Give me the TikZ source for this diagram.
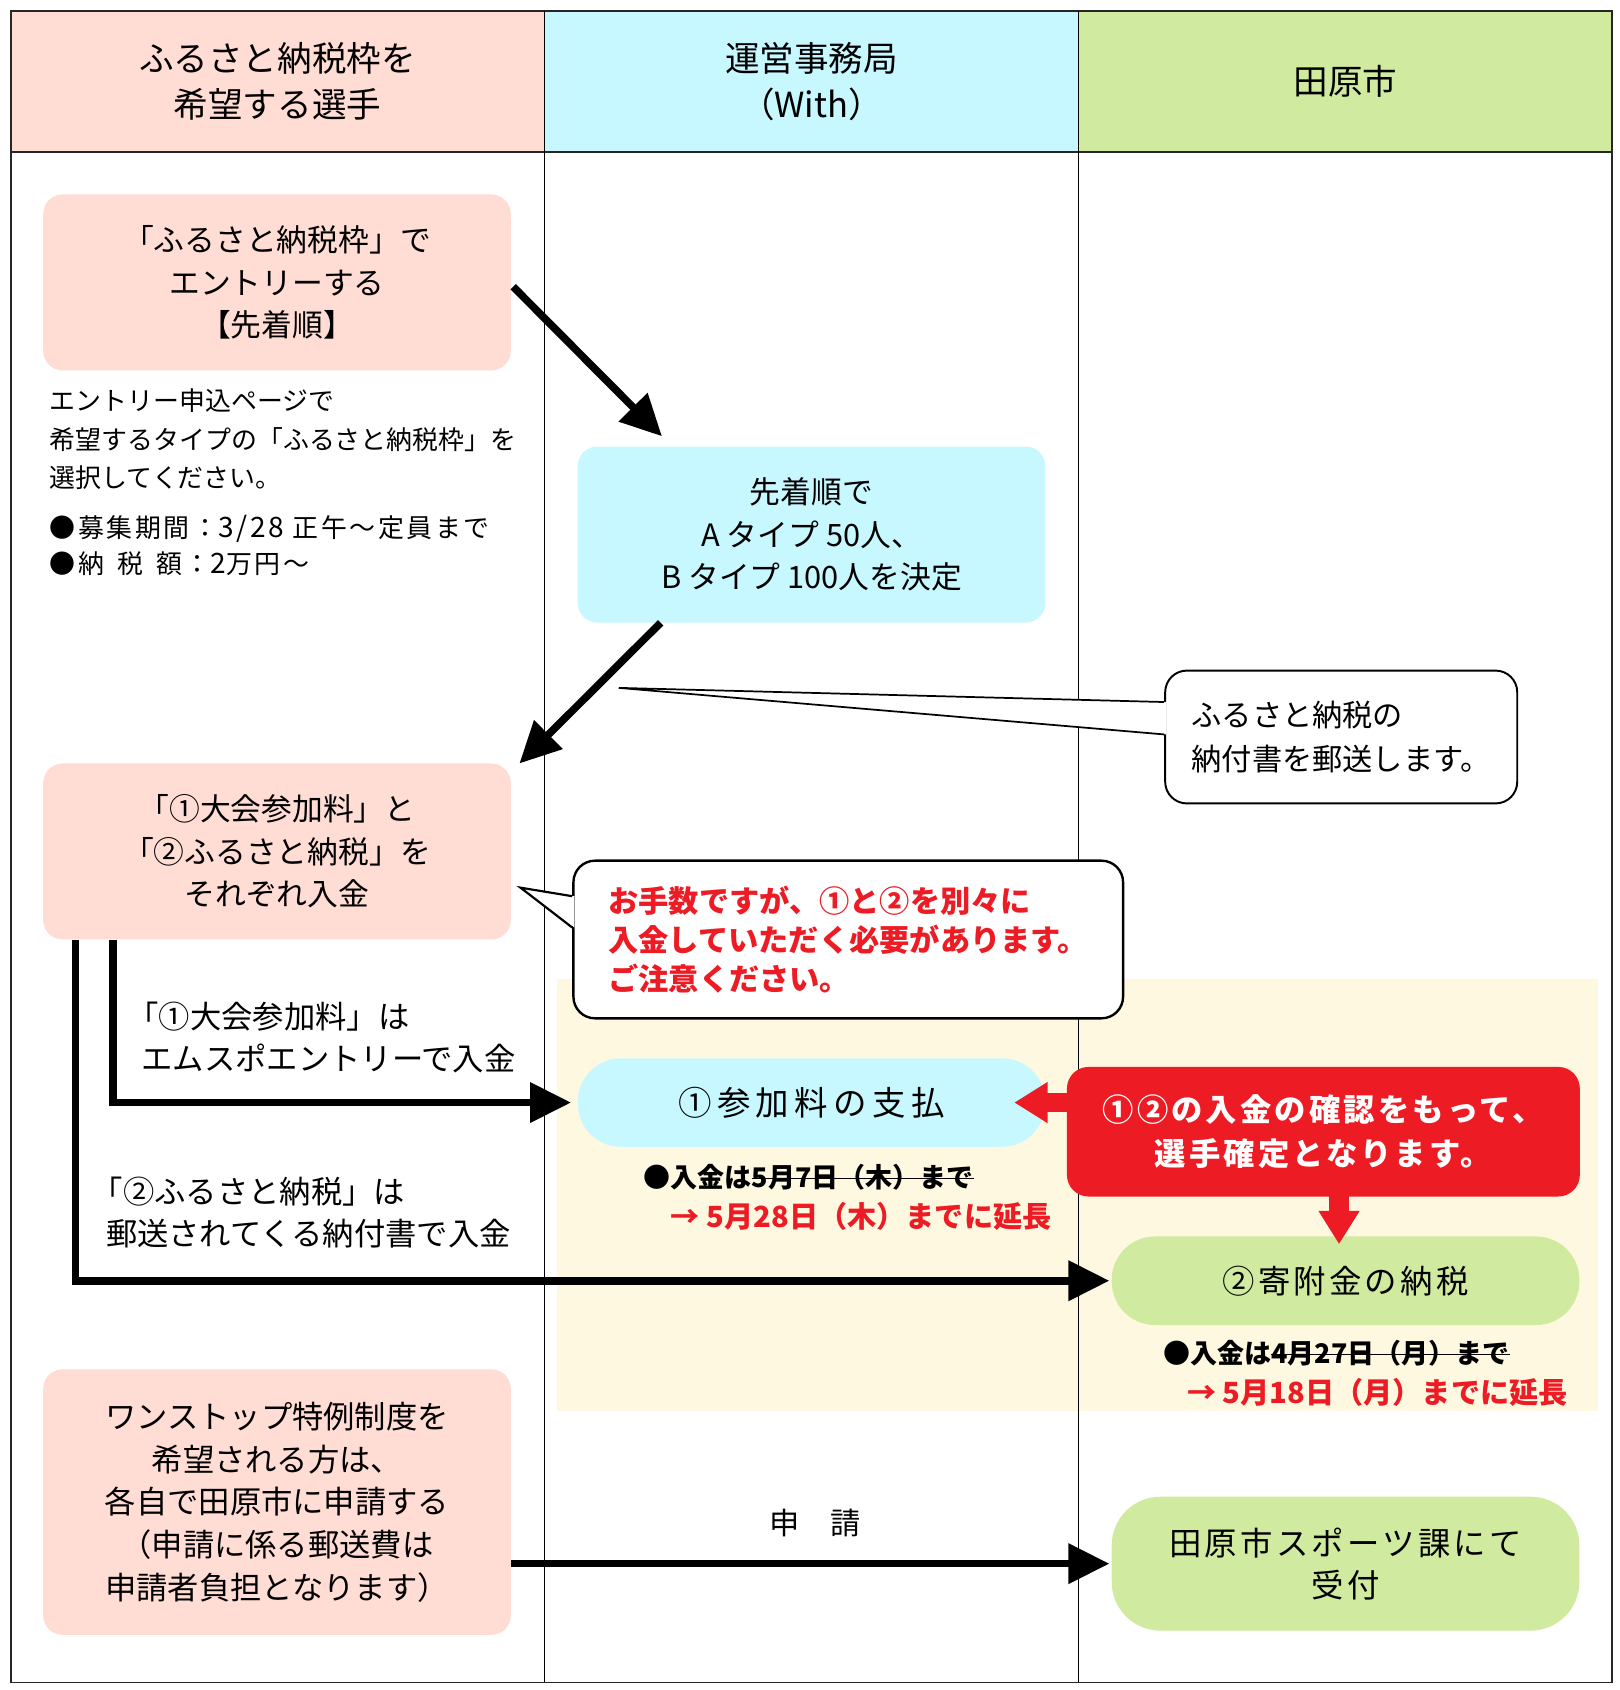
\documentclass[tikz,border=0pt]{standalone}
\usepackage{fontspec}
\setmainfont{Noto Sans CJK JP}
\newfontfamily\spaced[LetterSpace=10]{Noto Sans CJK JP}
\newfontfamily\wide[LetterSpace=16]{Noto Sans CJK JP}
\usetikzlibrary{positioning, arrows.meta, calc}
\definecolor{lanepink}{HTML}{FFDCD4}
\definecolor{lanecyan}{HTML}{C8F8FF}
\definecolor{lanegreen}{HTML}{D0EAA0}
\definecolor{cream}{HTML}{FFF8E0}
\definecolor{alert}{HTML}{ED1C24}
\newsavebox\strkbox
\newcommand\strk[1]{\sbox\strkbox{#1}\rlap{\rule[0.3em]{\wd\strkbox}{1.3pt}}\usebox\strkbox}

\begin{document}
\begin{tikzpicture}[x=1pt,y=-1pt,
	head/.style={minimum width=494pt,minimum height=131pt,inner sep=0pt,align=center,font=\fontsize{32}{42}\selectfont},
	box/.style={fill=lanepink,rounded corners=18pt,minimum width=433pt,minimum height=163pt,inner sep=0pt,align=center,font=\fontsize{28.5}{39.5}\selectfont},
	pill/.style={rounded corners=40pt,minimum width=433pt,minimum height=82pt,inner sep=0pt},
	txt/.style={inner sep=0pt,anchor=west,align=left},
	due/.style={txt,font=\bfseries\fontsize{25}{30}\selectfont},
	late/.style={txt,text=alert,font=\bfseries\fontsize{27}{30}\selectfont},
	bubble/.style={draw,fill=white,line width=1.8pt,rounded corners=20pt,inner sep=0pt,align=left},
	arr/.style={line width=7pt,-{Triangle[length=38pt,width=36pt]}},
	redarr/.style={color=alert,-{Triangle[length=31pt,width=36pt]}}]
	\useasboundingbox (0,0) rectangle (1500,1565);
	% lanes
	\fill[cream] (516,907) rectangle (1480,1307);
	\node[head,fill=lanepink] (h_1) at (257,75.5) {ふるさと納税枠を\\希望する選手};
	\node[head,fill=lanecyan,minimum width=495pt] (h_2) at (751.5,75.5) {運営事務局\\（With）};
	\node[head,fill=lanegreen] (h_3) at (1246,75.5) {田原市};
	\draw[line width=1.5pt,black!85] (10,10) rectangle (1493,1558) (10,141) -- (1493,141);
	\draw[line width=1pt] (504,10) -- (504,1558) (999,10) -- (999,1558);
	
	% player lane
	\node[box] (b_1) at (256.5,261.5) {「ふるさと納税枠」で\\エントリーする\\【先着順】};
	\node[txt,font=\fontsize{24}{35.5}\selectfont] (n_1) at (46,407) {エントリー申込ページで\\希望するタイプの「ふるさと納税枠」を\\選択してください。};
	\node[txt,font=\spaced\fontsize{24}{34}\selectfont] (n_2) at (46,505) {●募集期間：{\fontsize{26}{34}\selectfont 3/28} 正午～定員まで\\●納\kern.5em 税\kern.5em 額：{\fontsize{26}{34}\selectfont 2}万円～};
	\node[box] (b_3) at (256.5,788.5) {「①大会参加料」と\\「②ふるさと納税」を\\それぞれ入金};
	\node[txt,font=\fontsize{29}{39}\selectfont] (l_1) at (131,960.5) {\kern-.45em「①大会参加料」は\\エムスポエントリーで入金};
	\node[txt,font=\fontsize{29}{39}\selectfont] (l_2) at (98,1122.5) {\kern-.45em「②ふるさと納税」は\\郵送されてくる納付書で入金};
	\node[box,minimum height=246pt,font=\fontsize{29}{39.5}\selectfont] (b_8) at (256.5,1391) {ワンストップ特例制度を\\希望される方は、\\各自で田原市に申請する\\（申請に係る郵送費は\\申請者負担となります）};
	
	% office lane
	\node[box,fill=lanecyan] (b_2) at (751.5,495) {先着順で\\A タイプ 50人、\\B タイプ 100人を決定};
	\node[pill,fill=lanecyan,font=\wide\fontsize{31}{31}\selectfont] (b_5) at (751.5,1021) {①参加料の支払};
	\node[due] (d_1) at (596,1090) {●入金は\strk{5月7日（木）まで}};
	\node[late] (d_2) at (621,1126) {→ 5月28日（木）までに延長};
	\node[inner sep=0pt,font=\fontsize{28}{28}\selectfont] (l_3) at (755,1410) {申　請};
	
	% city lane
	\node[fill=alert,rounded corners=20pt,minimum width=475pt,minimum height=120pt,inner sep=0pt,align=center,text=white,font=\spaced\bfseries\fontsize{29}{41}\selectfont] (b_7) at (1225.5,1048) {①②の入金の確認をもって、\\選手確定となります。};
	\node[pill,fill=lanegreen,font=\spaced\fontsize{30}{30}\selectfont] (b_6) at (1246,1186) {②寄附金の納税};
	\node[due] (d_3) at (1077,1253) {●入金は\strk{4月27日（月）まで}};
	\node[late] (d_4) at (1099,1289) {→ 5月18日（月）までに延長};
	\node[pill,fill=lanegreen,rounded corners=45pt,minimum height=124pt,align=center,font=\spaced\fontsize{30}{39}\selectfont] (b_9) at (1246,1448) {田原市スポーツ課にて\\受付};
	
	% bubbles
	\node[bubble,minimum width=326pt,minimum height=123pt,font=\fontsize{28}{41}\selectfont] (c_1) at (1242,682.5) {ふるさと納税の\\納付書を郵送します。};
	\coordinate (t_3) at (573,637);
	\fill[white] ($(c_1.north west)+(2,30)$) -- (t_3) -- ($(c_1.north west)+(2,60)$) -- cycle;
	\draw[line width=1.6pt] ($(c_1.north west)+(0,30)$) -- (t_3) -- ($(c_1.north west)+(0,60)$);
	\node[bubble,line width=2.2pt,minimum width=509pt,minimum height=146pt,text=alert,font=\bfseries\fontsize{28}{36}\selectfont] (c_2) at (785.5,870) {お手数ですが、①と②を別々に\\入金していただく必要があります。\\ご注意ください。};
	\coordinate (t_4) at (482,822);
	\fill[white] ($(c_2.north west)+(2,34)$) -- (t_4) -- ($(c_2.north west)+(2,63)$) -- cycle;
	\draw[line width=2pt] ($(c_2.north west)+(0,34)$) -- (t_4) -- ($(c_2.north west)+(0,63)$);
	
	% arrows
	\coordinate (t_1) at (613,404);
	\coordinate (t_2) at (481,707);
	\path[arr] ($(b_1.east)+(2,4)$) edge (t_1)
	($(b_2.south west)+(77,0)$) edge (t_2);
	\draw[arr,shorten >=6pt] ($(b_3.south west)+(65,0)$) |- (b_5.west);
	\draw[arr,shorten >=2pt] ($(b_3.south west)+(30,0)$) |- (b_6.west);
	\draw[arr,shorten >=2pt] (b_8.east |- b_9.west) -- (b_9.west);
	\draw[redarr,line width=17pt] ($(b_7.west |- b_5.east)+(4,0)$) -- ($(b_5.east)+(-29,0)$);
	\draw[redarr,line width=19pt] ($(b_7.south)+(14.5,-3)$) -- ($(b_7.south)+(14.5,44)$);
\end{tikzpicture}
\end{document}
